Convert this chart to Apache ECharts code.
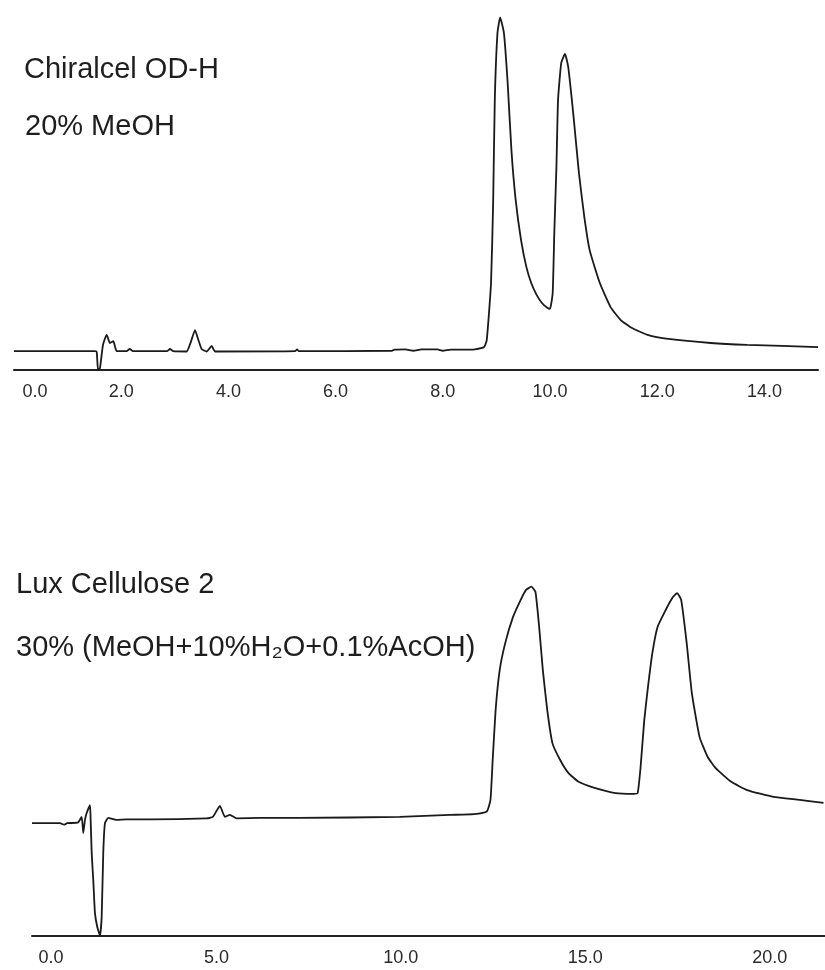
<!DOCTYPE html>
<html>
<head>
<meta charset="utf-8">
<script src="https://cdn.jsdelivr.net/npm/echarts@6/dist/echarts.min.js"></script>
<style>
  html, body { margin: 0; padding: 0; background: #ffffff; }
  #chart { width: 825px; height: 970px; }
</style>
</head>
<body>
<div id="chart"></div>
<script>
// Chiralcel OD-H, 20% MeOH: retention time (min) and detector signal (relative units)
const odhTime = [
  0, 1.50, 1.543, 1.567, 1.604, 1.66, 1.729, 1.791, 1.853, 1.916,
  2.10, 2.16, 2.22, 2.86, 2.91, 2.97, 3.22, 3.30, 3.377, 3.44,
  3.50, 3.595, 3.688, 3.75, 5.25, 5.28, 5.31, 7.05, 7.10, 7.30,
  7.45, 7.60, 7.90, 8.00, 8.15, 8.40, 8.60, 8.77, 8.82, 8.90,
  8.94, 8.97, 9.02, 9.07, 9.14, 9.21, 9.28, 9.36, 9.46, 9.56,
  9.65, 9.75, 9.85, 9.95, 10.00, 10.05, 10.08, 10.12, 10.15, 10.21,
  10.28, 10.34, 10.44, 10.54, 10.64, 10.74, 10.93, 11.13, 11.32, 11.52,
  11.82, 12.21, 13.00, 13.68, 15.0
];
const odhSignal = [
  5.1, 5.1, 4.9, 0, 0.5, 6.8, 9.5, 7.3, 7.8, 5.1,
  5.1, 5.7, 5.1, 5.1, 5.7, 5.1, 5.0, 7.6, 10.8, 8.1,
  5.7, 5.0, 6.5, 5.0, 5.1, 5.6, 5.1, 5.2, 5.5, 5.6,
  5.2, 5.6, 5.6, 5.2, 5.5, 5.5, 5.6, 6.2, 8.1, 23.5,
  45.9, 73.0, 91.1, 95.3, 91.1, 77.6, 59.5, 45.9, 35.1, 27.8,
  23.5, 20.3, 18.1, 16.8, 16.5, 20.8, 37.0, 54.9, 73.0, 83.0,
  85.4, 81.9, 68.4, 53.2, 41.4, 32.4, 23.5, 17.0, 13.5, 11.4,
  9.5, 8.4, 7.3, 6.8, 6.2
];
const odhTicks = [0, 2, 4, 6, 8, 10, 12, 14];

// Lux Cellulose 2, 30% (MeOH + 10% H2O + 0.1% AcOH)
const luxTime = [
  0, 0.76, 0.87, 0.95, 1.25, 1.347, 1.39, 1.436, 1.482, 1.572,
  1.59, 1.618, 1.661, 1.707, 1.77, 1.843, 1.889, 1.932, 1.978, 2.068,
  2.295, 2.566, 3.2, 4.734, 4.905, 5.095, 5.23, 5.366, 5.547, 6.179,
  7.26, 9.97, 11.33, 11.98, 12.33, 12.43, 12.49, 12.57, 12.68, 12.83,
  13.04, 13.25, 13.39, 13.54, 13.65, 13.75, 13.85, 13.97, 14.11, 14.32,
  14.54, 14.82, 15.25, 15.82, 16.31, 16.42, 16.50, 16.60, 16.70, 16.82,
  16.96, 17.18, 17.36, 17.49, 17.60, 17.75, 17.89, 18.10, 18.32, 18.53,
  18.96, 19.39, 20.10, 20.81, 21.46
];
const luxSignal = [
  30.0, 30.0, 29.6, 30.0, 30.2, 31.7, 27.4, 30.9, 32.7, 34.8,
  30.9, 22.1, 14.9, 6.1, 2.4, 0.1, 5.1, 22.1, 30.0, 31.4,
  30.9, 31.0, 31.0, 31.3, 31.7, 34.6, 31.7, 32.2, 31.3, 31.4,
  31.4, 31.7, 32.2, 32.4, 33.1, 36.2, 46.8, 60.1, 70.7, 77.9,
  84.8, 89.4, 92.0, 92.9, 91.5, 82.2, 70.7, 60.1, 51.3, 46.8,
  43.4, 41.0, 39.4, 38.0, 37.8, 38.0, 44.9, 57.4, 66.2, 75.3,
  82.2, 86.7, 89.9, 91.2, 89.4, 77.9, 64.6, 52.9, 47.6, 44.7,
  41.0, 38.8, 37.0, 36.2, 35.4
];
const luxTicks = [0, 5, 10, 15, 20];

// Panel captions
const odhCaption = ['Chiralcel OD-H', '20% MeOH'];
const luxCaption = ['Lux Cellulose 2', '30% (MeOH+10%H\u2082O+0.1%AcOH)'];

const toPairs = (xs, ys) => xs.map((x, i) => [x, ys[i]]);

const FONT = 'Arial, "Liberation Sans", sans-serif';

function timeAxis(gridIndex, max, ticks, firstPad) {
  return {
    type: 'value',
    gridIndex: gridIndex,
    min: 0,
    max: max,
    axisLine: { show: true, onZero: false, lineStyle: { color: '#222', width: 2 } },
    axisTick: { show: false },
    splitLine: { show: false },
    axisLabel: {
      customValues: ticks,
      margin: 13,
      color: '#2b2b2b',
      fontSize: 18,
      fontFamily: FONT,
      formatter: function (v) {
        const s = v.toFixed(1);
        return v === ticks[0] ? '{first|' + s + '}' : s;
      },
      rich: {
        first: { padding: [0, 0, 0, firstPad], fontSize: 18, fontFamily: FONT, color: '#2b2b2b' }
      }
    }
  };
}

function signalAxis(gridIndex) {
  return { type: 'value', gridIndex: gridIndex, min: 0, max: 100, show: false };
}

function caption(text, x, y) {
  return {
    type: 'text',
    x: x,
    y: y,
    style: {
      text: text,
      fill: '#1e1e1e',
      font: '29px ' + FONT,
      verticalAlign: 'middle',
      align: 'left'
    }
  };
}

const chart = echarts.init(document.getElementById('chart'), null, { renderer: 'canvas' });

chart.setOption({
  backgroundColor: '#ffffff',
  animation: false,
  grid: [
    { left: 14, top: 0, width: 804, height: 370 },
    { left: 32, top: 560, width: 793, height: 376 }
  ],
  xAxis: [
    timeAxis(0, 15.0, odhTicks, 42),
    timeAxis(1, 21.5, luxTicks, 38)
  ],
  yAxis: [signalAxis(0), signalAxis(1)],
  graphic: [
    caption(odhCaption[0], 24, 70),
    caption(odhCaption[1], 25, 127),
    caption(luxCaption[0], 16, 585),
    caption(luxCaption[1], 16, 648)
  ],
  series: [
    {
      type: 'line',
      xAxisIndex: 0,
      yAxisIndex: 0,
      data: toPairs(odhTime, odhSignal),
      showSymbol: false,
      smooth: 0.15,
      lineStyle: { color: '#1a1a1a', width: 1.8 }
    },
    {
      type: 'line',
      xAxisIndex: 1,
      yAxisIndex: 1,
      data: toPairs(luxTime, luxSignal),
      showSymbol: false,
      smooth: 0.15,
      lineStyle: { color: '#1a1a1a', width: 1.8 }
    }
  ]
});
</script>
</body>
</html>
